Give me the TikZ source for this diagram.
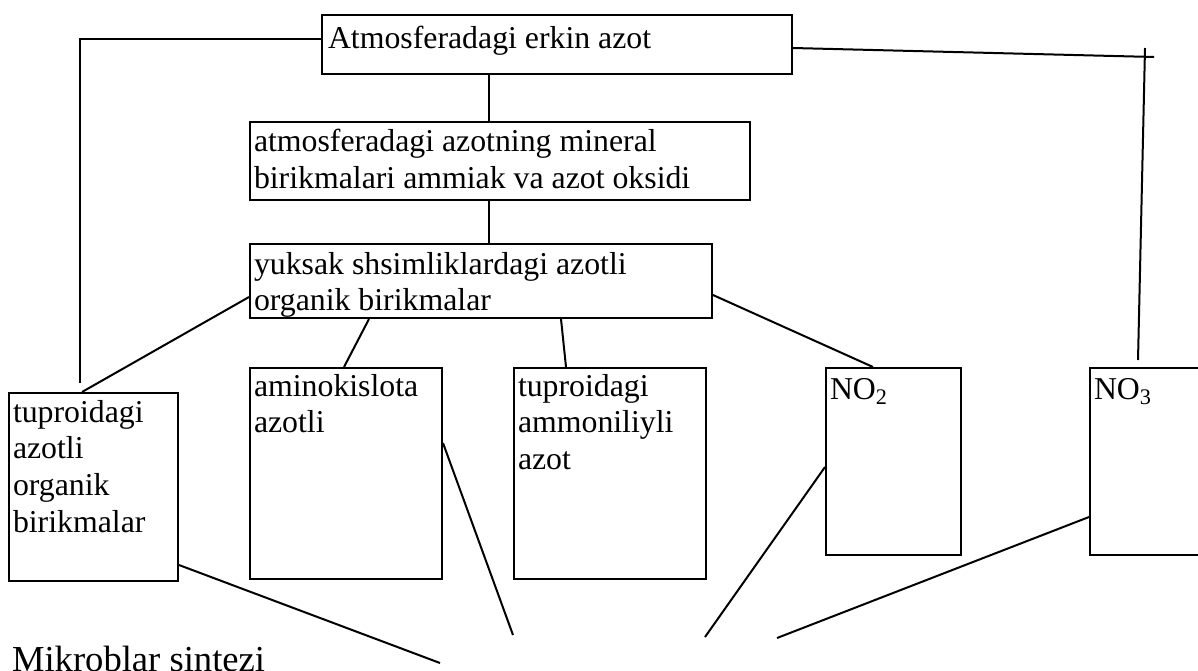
\documentclass[tikz,border=0pt]{standalone}
\usepackage{fontspec}
\setmainfont{Liberation Serif}

\begin{document}
\begin{tikzpicture}[x=0.5pt,y=-0.5pt,line width=1pt,
        box/.style={draw,rectangle,anchor=north west,inner sep=0pt},
        txt/.style={anchor=north west,align=left,inner sep=0pt,execute at begin node=\strut,font=\fontsize{15.9}{18.4}\selectfont}]
                \useasboundingbox (0,0) rectangle (1198,670);

                \node[box,minimum width=235pt,minimum height=29.5pt] (atm) at (321,14) {}; %atmosfera
                \node[box,minimum width=250pt,minimum height=39pt] (min) at (249,121) {}; %mineral
                \node[box,minimum width=231pt,minimum height=37pt] (yuk) at (249,243) {}; %yuksak
                \node[box,minimum width=84.5pt,minimum height=94pt] (tup) at (8,392) {}; %tuproq organik
                \node[box,minimum width=96pt,minimum height=105.5pt] (ami) at (249,367) {}; %aminokislota
                \node[box,minimum width=96pt,minimum height=105.5pt] (amm) at (513,367) {}; %ammoniy
                \node[box,minimum width=67.5pt,minimum height=93.5pt] (no2) at (825,367) {}; %NO2
                \node[box,minimum width=62pt,minimum height=93.5pt] (no3) at (1089,367) {}; %NO3

                \node[txt] (atm-t) at ([shift={(6,8)}]atm.north west) {Atmosferadagi erkin azot};
                \node[txt] (min-t) at ([shift={(4,7)}]min.north west) {atmosferadagi azotning mineral\\birikmalari ammiak va azot oksidi};
                \node[txt] (yuk-t) at ([shift={(4,8)}]yuk.north west) {yuksak shsimliklardagi azotli\\organik birikmalar};
                \node[txt] (tup-t) at ([shift={(4,7)}]tup.north west) {tuproidagi\\azotli\\organik\\birikmalar};
                \node[txt] (ami-t) at ([shift={(4,6)}]ami.north west) {aminokislota\\azotli};
                \node[txt] (amm-t) at ([shift={(4,6)}]amm.north west) {tuproidagi\\ammoniliyli\\azot};
                \node[txt] (no2-t) at ([shift={(4,6)}]no2.north west) {NO\textsubscript{2}};
                \node[txt] (no3-t) at ([shift={(4,6)}]no3.north west) {NO\textsubscript{3}};
                \node[anchor=base west,inner sep=0pt,font=\fontsize{18.3}{20}\selectfont] (mik) at (11,671) {Mikroblar sintezi};

                % bo'sh uchlar
                \coordinate (l1) at (80,383);
                \coordinate (r1) at (1154,57);
                \coordinate (r2) at (1145,48);
                \coordinate (r3) at (1138,360);
                \coordinate (s1) at (440,663);
                \coordinate (s2) at (513,635);
                \coordinate (s3) at (705,637);
                \coordinate (s4) at (777,638);

                \draw (atm.west |- 0,39) -| (l1);
                \draw (atm.east |- 0,48) -- (r1);
                \draw (r2) -- (r3);
                \draw (atm.south -| 489,0) -- (min.north -| 489,0);
                \draw (min.south -| 489,0) -- (yuk.north -| 489,0);
                \draw (yuk.west |- 0,297) -- (tup.north -| 82,0);
                \draw (yuk.south -| 369,0) -- (ami.north -| 344,0);
                \draw (yuk.south -| 561,0) -- (amm.north -| 566,0);
                \draw (yuk.east |- 0,295) -- (no2.north -| 873,0);
                \draw (tup.east |- 0,565) -- (s1);
                \draw (ami.east |- 0,443) -- (s2);
                \draw (no2.west |- 0,467) -- (s3);
                \draw (no3.west |- 0,517) -- (s4);
            \end{tikzpicture}
\end{document}
